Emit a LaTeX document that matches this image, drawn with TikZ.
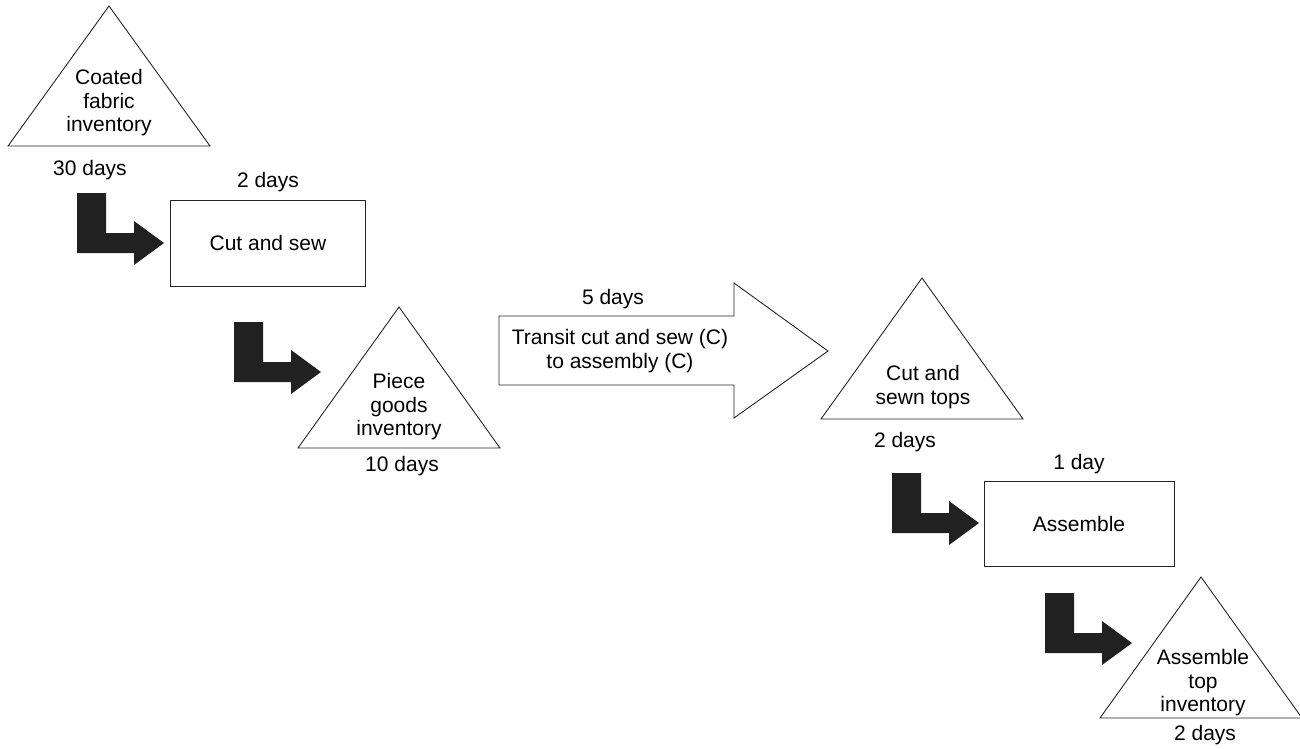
\documentclass[tikz,border=0pt]{standalone}
\usepackage{fontspec}
\setmainfont{Liberation Sans}
\usetikzlibrary{positioning}

\begin{document}
\begin{tikzpicture}[x=1pt, y=-1pt,
    stage/.style={draw=black!85, line width=0.9pt, fill=white},
    txt/.style={font=\fontsize{21}{23.5}\selectfont, align=center, inner sep=0pt},
    days/.style={font=\fontsize{21}{23.5}\selectfont, inner sep=0pt},
    lturn/.pic={\fill[black!87] (0,0) -- (29,0) -- (29,40) -- (57,40) -- (57,28) -- (87,50) -- (57,72) -- (57,60) -- (0,60) -- cycle;},
]
\useasboundingbox (0,0) rectangle (1300,748);

% stage 0 (coated fabric)
\draw[stage] (109,6) -- (8,146) -- (210,146) -- cycle;
\node[txt] (coated) at (109,103) {Coated\\fabric\\inventory};
\node[days] (coatedd) at (90,170) {30 days};
\pic at (77,193) {lturn};

% stage 1 (cut and sew)
\node[stage, minimum width=195pt, minimum height=86pt, txt] (cutsew) at (268,243) {Cut and sew};
\node[days, above=8pt of cutsew] (cutsewd) {2 days};
\pic at (234,322) {lturn};

% stage 2 (piece goods)
\draw[stage] (399,307) -- (298,448) -- (500,448) -- cycle;
\node[txt] (piece) at (399,407) {Piece\\goods\\inventory};
\node[days] (pieced) at (402,466) {10 days};

% stage 3 (transit)
\draw[stage] (499,316) -- (734,316) -- (734,283) -- (828,351) -- (734,418) -- (734,385) -- (499,385) -- cycle;
\node[txt] (transit) at (620,351) {Transit cut and sew (C)\\to assembly (C)};
\node[days] (transitd) at (613,299) {5 days};

% stage 4 (cut and sewn tops)
\draw[stage] (922,278) -- (821,419) -- (1023,419) -- cycle;
\node[txt] (tops) at (923,387) {Cut and\\sewn tops};
\node[days] (topsd) at (905,442) {2 days};
\pic at (892,473) {lturn};

% stage 5 (assemble)
\node[stage, minimum width=190pt, minimum height=85pt, txt] (assemble) at (1079,523.5) {Assemble};
\node[days, above=7pt of assemble] (assembled) {1 day};
\pic at (1045,593) {lturn};

% stage 6 (assemble top)
\draw[stage] (1201,577) -- (1100,718) -- (1302,718) -- cycle;
\node[txt] (asmtop) at (1203,683) {Assemble\\top\\inventory};
\node[days] (asmtopd) at (1205,735) {2 days};

\end{tikzpicture}
\end{document}
